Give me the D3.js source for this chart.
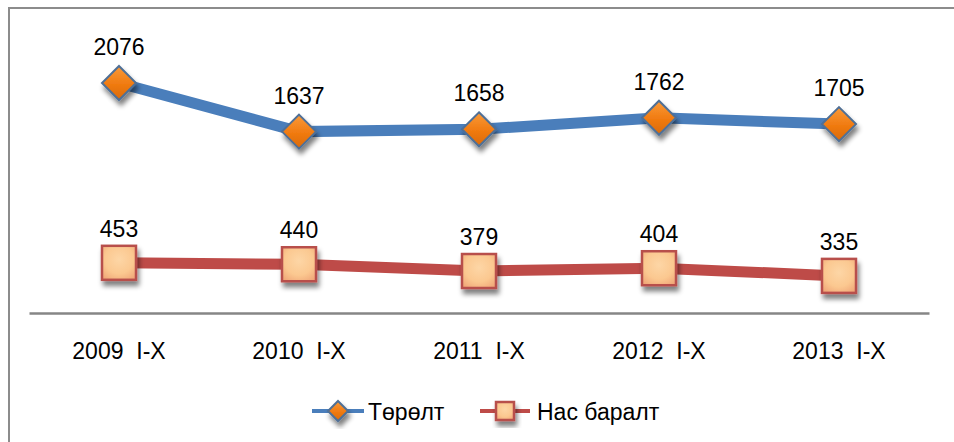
<!DOCTYPE html>
<html>
<head>
<meta charset="utf-8">
<script src="https://cdn.jsdelivr.net/npm/d3@7"></script>
<style>
  body { margin: 0; background: #fff; }
  svg text { font-family: "Liberation Sans", Arial, sans-serif; fill: #000; white-space: pre; }
</style>
</head>
<body>
<div id="chart"></div>
<script>
// Chart data
const years = ["2009  I-X", "2010  I-X", "2011  I-X", "2012  I-X", "2013  I-X"];
const births = [2076, 1637, 1658, 1762, 1705];
const deaths = [453, 440, 379, 404, 335];
const seriesNames = ["Төрөлт", "Нас баралт"];

const width = 954;
const height = 442;

const svg = d3.select("#chart")
  .append("svg")
  .attr("width", width)
  .attr("height", height);

const defs = svg.append("defs");

// orange diamond gradient
const og = defs.append("linearGradient").attr("id", "orangeGrad")
  .attr("x1", 0).attr("y1", 0).attr("x2", 0).attr("y2", 1);
og.append("stop").attr("offset", "0%").attr("stop-color", "#f99a3a");
og.append("stop").attr("offset", "55%").attr("stop-color", "#f07a10");
og.append("stop").attr("offset", "100%").attr("stop-color", "#d96a08");

// peach square gradient
const pg = defs.append("radialGradient").attr("id", "peachGrad")
  .attr("cx", "50%").attr("cy", "40%").attr("r", "70%");
pg.append("stop").attr("offset", "0%").attr("stop-color", "#fdd6a6");
pg.append("stop").attr("offset", "60%").attr("stop-color", "#fbc890");
pg.append("stop").attr("offset", "100%").attr("stop-color", "#f0a778");

// soft grey shadow under markers
const shadow = defs.append("filter").attr("id", "shadow")
  .attr("x", "-30%").attr("y", "-30%").attr("width", "170%").attr("height", "170%");
shadow.append("feGaussianBlur").attr("in", "SourceAlpha").attr("stdDeviation", 2.5).attr("result", "b");
shadow.append("feOffset").attr("in", "b").attr("dx", 2).attr("dy", 5).attr("result", "o");
shadow.append("feComponentTransfer").attr("in", "o").attr("result", "s")
  .append("feFuncA").attr("type", "linear").attr("slope", 0.5);
const merge = shadow.append("feMerge");
merge.append("feMergeNode").attr("in", "s");
merge.append("feMergeNode").attr("in", "SourceGraphic");

// chart frame (cropped on right and bottom)
svg.append("rect")
  .attr("x", 8.5).attr("y", 7.5)
  .attr("width", 960).attr("height", 450)
  .attr("fill", "none")
  .attr("stroke", "#8c8c8c")
  .attr("stroke-width", 2)
  .attr("shape-rendering", "crispEdges");

const x = d3.scaleBand()
  .domain(years)
  .range([29, 929]);

const y = d3.scaleLinear()
  .domain([0, 2500])
  .range([313, 36]);

const cx = d => x(d) + x.bandwidth() / 2;

// category axis
const xAxis = svg.append("g")
  .attr("transform", "translate(0,313)")
  .call(d3.axisBottom(x).tickSize(0).tickPadding(30));
xAxis.select(".domain").attr("stroke", "#868686").attr("stroke-width", 2.5);
xAxis.selectAll("text")
  .style("font-size", "23px")
  .style("font-family", "'Liberation Sans', Arial, sans-serif")
  .style("white-space", "pre")
  .attr("fill", "#000");

const line = d3.line()
  .x((d, i) => cx(years[i]))
  .y(d => y(d));

svg.append("path")
  .datum(births)
  .attr("fill", "none")
  .attr("stroke", "#4a7ebb")
  .attr("stroke-width", 11)
  .attr("d", line);

svg.append("path")
  .datum(deaths)
  .attr("fill", "none")
  .attr("stroke", "#be4b48")
  .attr("stroke-width", 11)
  .attr("d", line);

function diamond(g, px, py, r) {
  g.append("path")
    .attr("d", `M${px},${py - r}L${px + r},${py}L${px},${py + r}L${px - r},${py}Z`)
    .attr("fill", "url(#orangeGrad)")
    .attr("stroke", "#4f6f96")
    .attr("stroke-width", 2)
    .attr("filter", "url(#shadow)");
}

function square(g, px, py, s) {
  g.append("rect")
    .attr("x", px - s / 2).attr("y", py - s / 2)
    .attr("width", s).attr("height", s)
    .attr("fill", "url(#peachGrad)")
    .attr("stroke", "#b8504c")
    .attr("stroke-width", 2.5)
    .attr("filter", "url(#shadow)");
}

const markers = svg.append("g");
births.forEach((v, i) => diamond(markers, cx(years[i]), y(v), 17));
deaths.forEach((v, i) => square(markers, cx(years[i]), y(v), 34));

// data labels
svg.append("g")
  .selectAll("text")
  .data(births)
  .join("text")
  .attr("x", (d, i) => cx(years[i]))
  .attr("y", d => y(d) - 28)
  .attr("text-anchor", "middle")
  .style("font-size", "23px")
  .text(d => d);

svg.append("g")
  .selectAll("text")
  .data(deaths)
  .join("text")
  .attr("x", (d, i) => cx(years[i]))
  .attr("y", d => y(d) - 26)
  .attr("text-anchor", "middle")
  .style("font-size", "23px")
  .text(d => d);

// legend
const legend = svg.append("g").attr("transform", "translate(0,411)");

legend.append("line")
  .attr("x1", 312).attr("x2", 364)
  .attr("stroke", "#4a7ebb").attr("stroke-width", 4);
diamond(legend, 338, 0, 10);
legend.append("text")
  .attr("x", 368).attr("y", 9)
  .style("font-size", "23px")
  .text(seriesNames[0]);

legend.append("line")
  .attr("x1", 480).attr("x2", 530)
  .attr("stroke", "#be4b48").attr("stroke-width", 4);
square(legend, 505, 0, 18);
legend.append("text")
  .attr("x", 537).attr("y", 9)
  .style("font-size", "23px")
  .text(seriesNames[1]);
</script>
</body>
</html>
